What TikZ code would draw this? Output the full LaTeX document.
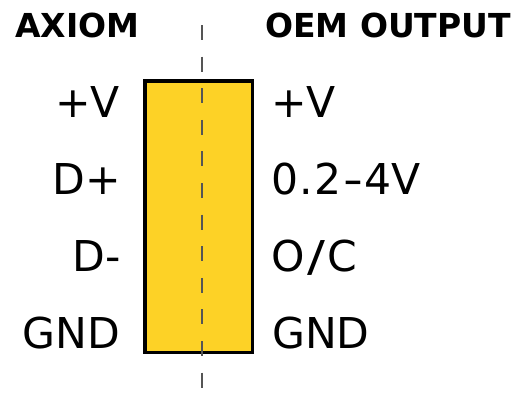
\documentclass[tikz,border=0pt]{standalone}
\usepackage{fontspec}
\setmainfont{DejaVu Sans}
\definecolor{boxfill}{RGB}{253,210,38}
\definecolor{dashgray}{RGB}{85,85,85}
\tikzset{
  lbl/.style={inner sep=0pt, font=\fontsize{42.5}{48}\selectfont},
  ttl/.style={inner sep=0pt, font=\fontsize{33}{38}\selectfont\bfseries},
  conn/.style={draw=black, line width=3.5pt, fill=boxfill},
  axis/.style={draw=dashgray, line width=2pt, dash pattern=on 15pt off 16.6pt}
}
\begin{document}
\begin{tikzpicture}[x=1pt,y=-1pt]
\useasboundingbox (0,0) rectangle (514,394);
\node[ttl, anchor=base west] (tl) at (15,37) {AXIOM};
\node[ttl, anchor=base west] (tr) at (265,37) {OEM OUTPUT};
\path[conn] (145,81) rectangle (252.5,352.5);
\coordinate (top) at (201.7,25);
\coordinate (bot) at (201.7,392);
\draw[axis] (top) -- (bot);
\node[lbl, anchor=base east] (l1) at (120,117) {+V};
\node[lbl, anchor=base east] (l2) at (121,194) {D+};
\node[lbl, anchor=base east] (l3) at (121,271) {D-};
\node[lbl, anchor=base east] (l4) at (120,348) {GND};
\node[lbl, anchor=base west] (r1) at (271,117) {+V};
\node[lbl, anchor=base west] (r2) at (271,194) {0\kern1.5pt.\kern1.5pt2\kern1.5pt\scalebox{1.3}[1]{-}\kern1.5pt4V};
\node[lbl, anchor=base west] (r3) at (271,271) {O\kern2.5pt\scalebox{1.25}[1]{/}\kern2.5pt C};
\node[lbl, anchor=base west] (r4) at (272,348) {GND};
\end{tikzpicture}
\end{document}
